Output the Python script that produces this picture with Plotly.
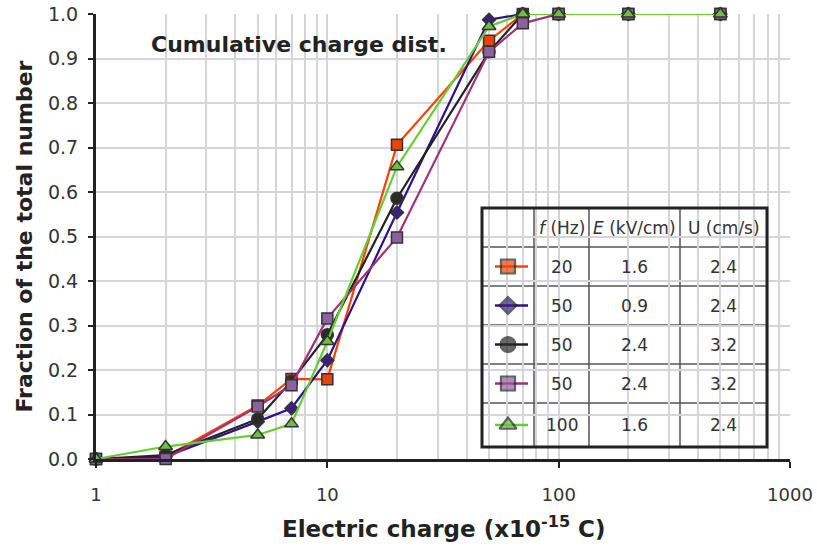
import plotly.graph_objects as go

# ---------------- data ----------------
charge = [1, 2, 5, 7, 10, 20, 50, 70, 100, 200, 500]
frac_20Hz_E16 = [0.0, 0.005, 0.12, 0.18, 0.179, 0.706, 0.94, 1.0, 1.0, 1.0, 1.0]
frac_50Hz_E09 = [0.0, 0.005, 0.084, 0.114, 0.222, 0.554, 0.987, 1.0, 1.0, 1.0, 1.0]
frac_50Hz_E24a = [0.0, 0.009, 0.09, 0.175, 0.279, 0.586, 0.915, 1.0, 1.0, 1.0, 1.0]
frac_50Hz_E24b = [0.0, 0.0, 0.118, 0.166, 0.316, 0.498, 0.915, 0.979, 1.0, 1.0, 1.0]
frac_100Hz_E16 = [0.0, 0.028, 0.054, 0.079, 0.264, 0.657, 0.972, 1.0, 1.0, 1.0, 1.0]

series_values = [frac_20Hz_E16, frac_50Hz_E09, frac_50Hz_E24a, frac_50Hz_E24b, frac_100Hz_E16]
table_f = ["20", "50", "50", "50", "100"]
table_E = ["1.6", "0.9", "2.4", "2.4", "1.6"]
table_U = ["2.4", "2.4", "3.2", "3.2", "2.4"]
table_header = ["<i>f</i> (Hz)", "<i>E</i> (kV/cm)", "U (cm/s)"]

x_ticks = [1, 10, 100, 1000]
y_ticks = [0.0, 0.1, 0.2, 0.3, 0.4, 0.5, 0.6, 0.7, 0.8, 0.9, 1.0]

# ---------------- styles ----------------
styles = [
    dict(line="#FF4000", fill="#E8440A", symbol="square", size=11, lsize=14),
    dict(line="#33108A", fill="#3A2080", symbol="diamond", size=10, lsize=13),
    dict(line="#222222", fill="#2A2A2A", symbol="circle", size=12, lsize=15),
    dict(line="#A0307A", fill="#8E609E", symbol="square", size=11, lsize=14),
    dict(line="#66CC33", fill="#6CC040", symbol="triangle-up", size=12, lsize=15),
]
edge = "#333333"
grid = "#D4D4DA"
font_main = "DejaVu Sans"

W, H = 817, 546
L, R, T, B = 96, 790, 14, 459

fig = go.Figure()

for vals, st in zip(series_values, styles):
    fig.add_trace(go.Scatter(
        x=charge, y=vals, mode="lines+markers",
        line=dict(color=st["line"], width=2.2),
        marker=dict(symbol=st["symbol"], size=st["size"], color=st["fill"],
                    line=dict(color=edge, width=1.5)),
        showlegend=False, cliponaxis=False,
    ))

# ---------------- legend table (pixel overlay axes) ----------------
tl, tr, tt, tb = 482, 767, 208, 447
col_edges = [534, 589, 680]
row_edges = [247, 286, 325, 364, 403]
rows_y = [tt] + row_edges + [tb]
row_c = [(rows_y[i] + rows_y[i + 1]) / 2 for i in range(len(rows_y) - 1)]
cols_x = [tl] + col_edges + [tr]
col_c = [(cols_x[i] + cols_x[i + 1]) / 2 for i in range(len(cols_x) - 1)]

shapes = []
shapes.append(dict(type="rect", xref="x2", yref="y2", x0=tl, x1=tr, y0=tt, y1=tb,
                   fillcolor="white", line=dict(width=0), layer="below"))
for cx in col_edges:
    shapes.append(dict(type="line", xref="x2", yref="y2", x0=cx, x1=cx, y0=tt, y1=tb,
                       line=dict(color="#3A3A3A", width=1.3), layer="below"))
for ry in row_edges:
    shapes.append(dict(type="line", xref="x2", yref="y2", x0=tl, x1=tr, y0=ry, y1=ry,
                       line=dict(color="#555555", width=1.3), layer="below"))
shapes.append(dict(type="rect", xref="x2", yref="y2", x0=tl, x1=tr, y0=tt, y1=tb,
                   fillcolor="rgba(0,0,0,0)", line=dict(color="#222222", width=3), layer="above"))

mx0, mx1 = 495, 528
for i, st in enumerate(styles):
    yy = row_c[i + 1]
    fig.add_trace(go.Scatter(
        x=[mx0, col_c[0], mx1], y=[yy, yy, yy], mode="lines+markers",
        line=dict(color=st["line"], width=2.5),
        marker=dict(symbol=st["symbol"], size=[0, st["lsize"], 0], color=st["fill"],
                    line=dict(color="#222222", width=[0, 2.2, 0])),
        xaxis="x2", yaxis="y2", showlegend=False, hoverinfo="skip",
    ))

annotations = []
tfont = dict(family=font_main, size=17, color="#333333")
for j, h in enumerate(table_header):
    annotations.append(dict(xref="x2", yref="y2", x=col_c[j + 1], y=row_c[0], text=h,
                            showarrow=False, font=tfont, xanchor="center", yanchor="middle"))
for i in range(5):
    for j, col in enumerate([table_f, table_E, table_U]):
        annotations.append(dict(xref="x2", yref="y2", x=col_c[j + 1], y=row_c[i + 1],
                                text=col[i], showarrow=False, font=tfont,
                                xanchor="center", yanchor="middle"))

annotations.append(dict(xref="x2", yref="y2", x=149, y=44, text="<b>Cumulative charge dist.</b>",
                        showarrow=False, xanchor="left", yanchor="middle",
                        font=dict(family=font_main, size=22, color="#222222")))

# axis titles as annotations (pixel positions via overlay axes)
annotations.append(dict(xref="x2", yref="paper", x=(L + R) / 2, y=(B - 527) / (B - T),
                        text="<b>Electric charge (x10<sup>-15</sup> C)</b>", showarrow=False,
                        xanchor="center", yanchor="middle",
                        font=dict(family=font_main, size=23, color="#222222")))
annotations.append(dict(xref="paper", yref="y2", x=(24 - L) / (R - L), y=(B + T) / 2,
                        text="<b>Fraction of the total number</b>", showarrow=False,
                        textangle=-90, xanchor="center", yanchor="middle",
                        font=dict(family=font_main, size=22, color="#222222")))

fig.update_layout(
    width=W, height=H,
    margin=dict(l=L, r=W - R, t=T, b=H - B, pad=0, autoexpand=False),
    paper_bgcolor="white", plot_bgcolor="white",
    shapes=shapes, annotations=annotations,
    xaxis=dict(
        type="log", range=[0, 3], tickvals=x_ticks, ticktext=[str(v) for v in x_ticks],
        ticks="outside", ticklen=6, tickwidth=2, tickcolor="#222222",
        showline=True, linecolor="#222222", linewidth=3,
        showgrid=True, gridcolor=grid, gridwidth=1.5,
        minor=dict(dtick="D1", showgrid=True, gridcolor=grid, gridwidth=1.5, ticks=""),
        tickfont=dict(family=font_main, size=18, color="#333333"),
        ticklabelstandoff=11, automargin=False,
        zeroline=False,
    ),
    yaxis=dict(
        range=[0, 1], tickvals=y_ticks, tickformat=".1f",
        ticks="outside", ticklen=5, tickwidth=2, tickcolor="#222222",
        showline=True, linecolor="#222222", linewidth=3,
        showgrid=True, gridcolor=grid, gridwidth=1.5,
        tickfont=dict(family=font_main, size=19, color="#333333"),
        ticklabelstandoff=6, automargin=False,
        zeroline=False,
    ),
    xaxis2=dict(overlaying="x", range=[L, R], visible=False, fixedrange=True, anchor="y2"),
    yaxis2=dict(overlaying="y", range=[B, T], visible=False, fixedrange=True, anchor="x2"),
)

fig.write_html("out.html")
